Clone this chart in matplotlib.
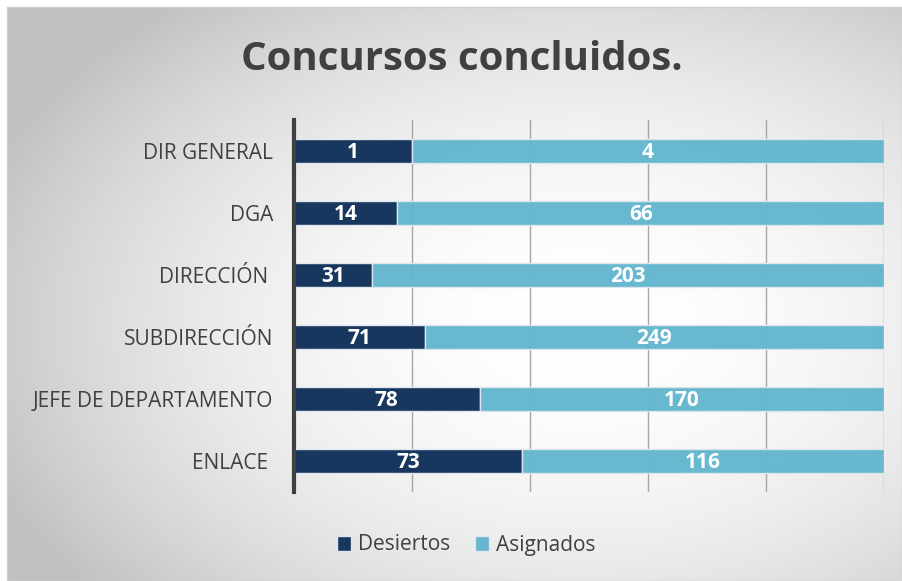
import numpy as np
import matplotlib.pyplot as plt
from matplotlib.patches import Rectangle

categories = ["DIR GENERAL", "DGA", "DIRECCIÓN ", "SUBDIRECCIÓN", "JEFE DE DEPARTAMENTO", "ENLACE "]
desiertos = [1, 14, 31, 71, 78, 73]
asignados = [4, 66, 203, 249, 170, 116]

dark = "#17375e"
light = "#63b6ce"
text_col = "#404040"
plt.rcParams['font.family'] = ['Open Sans', 'DejaVu Sans']

W, H = 902, 581
fig = plt.figure(figsize=(W / 100, H / 100), dpi=100)

# background: white margin then radial gradient frame
bg = fig.add_axes([0, 0, 1, 1])
bg.set_xlim(0, W)
bg.set_ylim(H, 0)
bg.axis("off")
yy, xx = np.mgrid[0:H, 0:W]
r = np.sqrt(((xx - 580) / 640) ** 2 + ((yy - 320) / 420) ** 2)
g = np.clip(1.0 - 0.24 * r ** 2, 0.76, 1.0)
img = np.dstack([g, g, g])
bg.imshow(img, extent=[7, W, H, 7], aspect="auto", zorder=0)
bg.add_patch(Rectangle((7, 7), W - 7, H - 7, fill=False, edgecolor="#d0d0d0", lw=1, zorder=1))

ax = fig.add_axes([294 / W, 1 - 492 / H, (884 - 294) / W, (492 - 120) / H])
ax.patch.set_alpha(0)

tot = np.array(desiertos) + np.array(asignados)
p_d = np.array(desiertos) / tot
p_a = np.array(asignados) / tot
y = np.arange(len(categories))

b1 = ax.barh(y, p_d, height=0.39, color=dark, edgecolor="#dfe6ee", lw=1, label="Desiertos", zorder=3)
b2 = ax.barh(y, p_a, left=p_d, height=0.39, color=light, edgecolor="#dfe6ee", lw=1,
             label="Asignados", zorder=3, alpha=0.97)

# white bold labels in the middle of each segment
for i in range(len(categories)):
    ax.text(p_d[i] / 2, y[i] + 0.03, str(desiertos[i]), ha="center", va="center", color="white",
            fontsize=15, fontweight="bold", zorder=4)
    ax.text(p_d[i] + p_a[i] / 2, y[i] + 0.03, str(asignados[i]), ha="center", va="center", color="white",
            fontsize=15, fontweight="bold", zorder=4)

ax.set_xlim(0, 1)
ax.set_ylim(len(categories) - 0.5, -0.5)
ax.set_xticks(np.arange(0, 1.01, 0.2))
ax.set_xticklabels([])
ax.tick_params(axis="x", length=0)
ax.grid(axis="x", color="#a6a6a6", lw=1, zorder=1)
ax.set_yticks(y)
ax.set_yticklabels(categories, fontsize=15, color=text_col)
ax.tick_params(axis="y", length=0, pad=15)
for s in ["top", "right", "bottom"]:
    ax.spines[s].set_visible(False)
ax.spines["left"].set_color(text_col)
ax.spines["left"].set_linewidth(3)
ax.spines["left"].set_zorder(5)

fig.text(462 / W, 1 - 60 / H, "Concursos concluidos.", ha="center", va="center",
         fontsize=29, fontweight="bold", color=text_col)

fig.legend(handles=[b1, b2], loc="center", bbox_to_anchor=(466 / W, 1 - 545 / H), ncol=2,
           frameon=False, fontsize=15, handlelength=0.7, handleheight=0.7, handletextpad=0.3,
           columnspacing=1.2, labelcolor=text_col)

fig.savefig("out.png", dpi=100)
